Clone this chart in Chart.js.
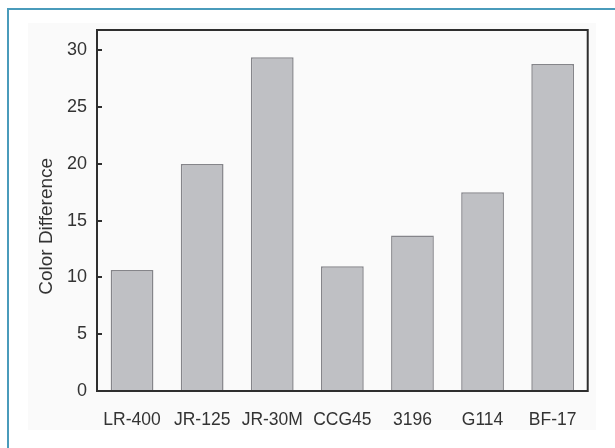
<!DOCTYPE html>
<html lang="en">
<head>
    <meta charset="UTF-8">
    <title>Color Difference</title>
    <script src="https://cdn.jsdelivr.net/npm/chart.js"></script>
    <style>
        body {
            margin: 0;
            background-color: #ffffff;
            width: 615px;
            height: 448px;
            overflow: hidden;
            position: relative;
        }
        /* teal frame around the figure */
        .frame {
            position: absolute;
            left: 7px;
            top: 8px;
            width: 640px;
            height: 480px;
            border-top: 2px solid #4a9bbb;
            border-left: 2px solid #4a9bbb;
        }
        .panel {
            position: absolute;
            left: 28px;
            top: 23px;
            width: 568px;
            height: 407px;
            background-color: #fafafa;
        }
    </style>
</head>
<body>

<div class="frame"></div>
<div class="panel">
    <canvas id="colorChart" width="568" height="407"></canvas>
</div>

<script>
  // data
  const samples = ['LR-400', 'JR-125', 'JR-30M', 'CCG45', '3196', 'G114', 'BF-17'];
  const colorDiff = [10.65, 20.0, 29.4, 11.0, 13.7, 17.5, 28.8];
  const yTicks = [0, 5, 10, 15, 20, 25, 30];

  const textColor = '#333333';
  const fontFamily = 'Liberation Sans, Arial, sans-serif';

  // box round the plot area + inward tick marks on the left axis
  const framePlugin = {
      id: 'frame',
      afterDraw(chart) {
          const ctx = chart.ctx;
          const a = chart.chartArea;
          const y = chart.scales.y;
          ctx.save();
          ctx.strokeStyle = '#2e2e2e';
          ctx.lineWidth = 2;
          ctx.strokeRect(a.left, a.top, a.right - a.left, a.bottom - a.top);
          yTicks.forEach(v => {
              const py = Math.round(y.getPixelForValue(v));
              ctx.beginPath();
              ctx.moveTo(a.left, py);
              ctx.lineTo(a.left + 5, py);
              ctx.stroke();
          });
          ctx.restore();
      }
  };

  const ctx = document.getElementById('colorChart').getContext('2d');
  new Chart(ctx, {
      type: 'bar',
      data: {
          labels: samples,
          datasets: [{
              data: colorDiff,
              backgroundColor: '#bfc0c4',
              borderColor: '#85858a',
              borderWidth: 1.5,
              barPercentage: 0.61,
              categoryPercentage: 1.0
          }]
      },
      options: {
          responsive: false,
          animation: false,
          layout: {
              padding: { top: 7, right: 7, left: 0, bottom: 0 }
          },
          plugins: {
              legend: { display: false },
              tooltip: { enabled: false }
          },
          scales: {
              x: {
                  grid: { display: false, drawTicks: false },
                  border: { display: false },
                  ticks: {
                      color: textColor,
                      font: { family: fontFamily, size: 17.5 },
                      padding: 19,
                      maxRotation: 0,
                      autoSkip: false
                  },
                  afterFit(scale) { scale.height = 39; }
              },
              y: {
                  min: 0,
                  max: 31.8,
                  grid: { display: false, drawTicks: false },
                  border: { display: false },
                  ticks: {
                      stepSize: 5,
                      includeBounds: false,
                      color: textColor,
                      padding: 10,
                      font: { family: fontFamily, size: 18 },
                      callback: v => yTicks.includes(v) ? v : ''
                  },
                  title: {
                      display: true,
                      // trailing spaces push the text a bit below the axis centre, as in the figure
                      text: 'Color Difference      ',
                      color: textColor,
                      font: { family: fontFamily, size: 19 },
                      padding: { top: 7, bottom: 0 }
                  },
                  afterFit(scale) {
                      scale.width = 69;
                      scale.paddingTop = 0;
                  }
              }
          }
      },
      plugins: [framePlugin]
  });
</script>

</body>
</html>
